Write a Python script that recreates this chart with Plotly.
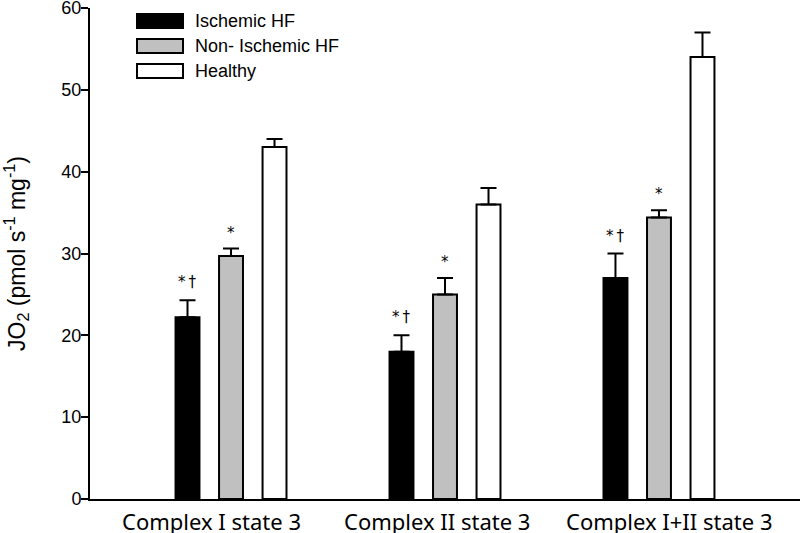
import plotly.graph_objects as go

categories = ["Complex I state 3", "Complex II state 3", "Complex I+II state 3"]
series_names = ["Ischemic HF", "Non- Ischemic HF", "Healthy"]
ischemic = [22.2, 18.0, 27.0]
ischemic_err = [2.1, 2.0, 3.0]
nonischemic = [29.7, 25.0, 34.4]
nonischemic_err = [0.9, 2.0, 0.9]
healthy = [43.0, 36.0, 54.0]
healthy_err = [1.0, 2.0, 3.0]
ischemic_marks = ["*\u2009\u2020", "*\u2009\u2020", "*\u2009\u2020"]
nonischemic_marks = ["*", "*", "*"]
y_ticks = [0, 10, 20, 30, 40, 50, 60]
label_shifts = [-20, -8, 10]  # category labels are offset in the reference

colors = ["#000000", "#c0c0c0", "#ffffff"]
values = [ischemic, nonischemic, healthy]
errors = [ischemic_err, nonischemic_err, healthy_err]

fig = go.Figure()
for name, vals, errs, col in zip(series_names, values, errors, colors):
    fig.add_trace(go.Bar(
        x=categories, y=vals, name=name, showlegend=False,
        marker=dict(color=col, line=dict(color="#000000", width=2)),
        error_y=dict(type="data", symmetric=False, array=errs,
                     arrayminus=[0] * len(errs), color="#000000",
                     thickness=2, width=8),
    ))

mark_font = dict(family="DejaVu Sans, Liberation Sans", size=15, color="#000000")
for i, cat in enumerate(categories):
    fig.add_annotation(x=cat, y=ischemic[i] + ischemic_err[i], text=ischemic_marks[i],
                       showarrow=False, xshift=-44, yshift=18, font=mark_font)
    fig.add_annotation(x=cat, y=nonischemic[i] + nonischemic_err[i], text=nonischemic_marks[i],
                       showarrow=False, xshift=0, yshift=16, font=mark_font)
    # category label
    fig.add_annotation(x=cat, y=0, yref="y", text=cat, showarrow=False,
                       xshift=label_shifts[i], yshift=-22, yanchor="middle",
                       font=dict(family="Noto Sans, Open Sans", size=22, color="#000000"))

# manual legend (wide swatches like the reference)
leg_rows = [0.9735, 0.9226, 0.8717]
for name, col, yc in zip(series_names, colors, leg_rows):
    fig.add_shape(type="rect", xref="paper", yref="paper",
                  x0=0.0662, x1=0.131, y0=yc - 0.0143, y1=yc + 0.0143,
                  fillcolor=col, line=dict(color="#000000", width=2))
    fig.add_annotation(xref="paper", yref="paper", x=0.1451, y=yc, text=name,
                       showarrow=False, xanchor="left", yanchor="middle",
                       font=dict(family="Liberation Sans, Arial", size=18, color="#000000"))

fig.update_layout(
    width=800, height=533,
    margin=dict(l=90, r=0, t=8, b=34),
    paper_bgcolor="white", plot_bgcolor="white",
    barmode="group", bargap=0.39, bargroupgap=0.45,
    font=dict(family="Liberation Sans, Arial", size=18, color="#000000"),
    showlegend=False,
)
fig.update_xaxes(
    range=[-0.659, 2.659], showline=True, linecolor="#000000", linewidth=2,
    ticks="", showticklabels=False, showgrid=False, zeroline=False, automargin=False,
)
fig.update_yaxes(
    range=[0, 60], tickmode="array", tickvals=y_ticks, ticktext=[str(v) for v in y_ticks],
    showline=True, linecolor="#000000", linewidth=2,
    ticks="outside", ticklen=7, tickwidth=2, tickcolor="#000000",
    showgrid=False, zeroline=False, automargin=False,
    ticklabeloverflow="allow", ticklabelstandoff=-4,
    tickfont=dict(size=18),
    title=dict(text="JO<sub>2</sub> (pmol s<sup>-1</sup> mg<sup>-1</sup>)",
               font=dict(size=23), standoff=30),
)

fig.write_html("out.html", config={"displayModeBar": False},
               post_script="document.body.style.margin='0';")
